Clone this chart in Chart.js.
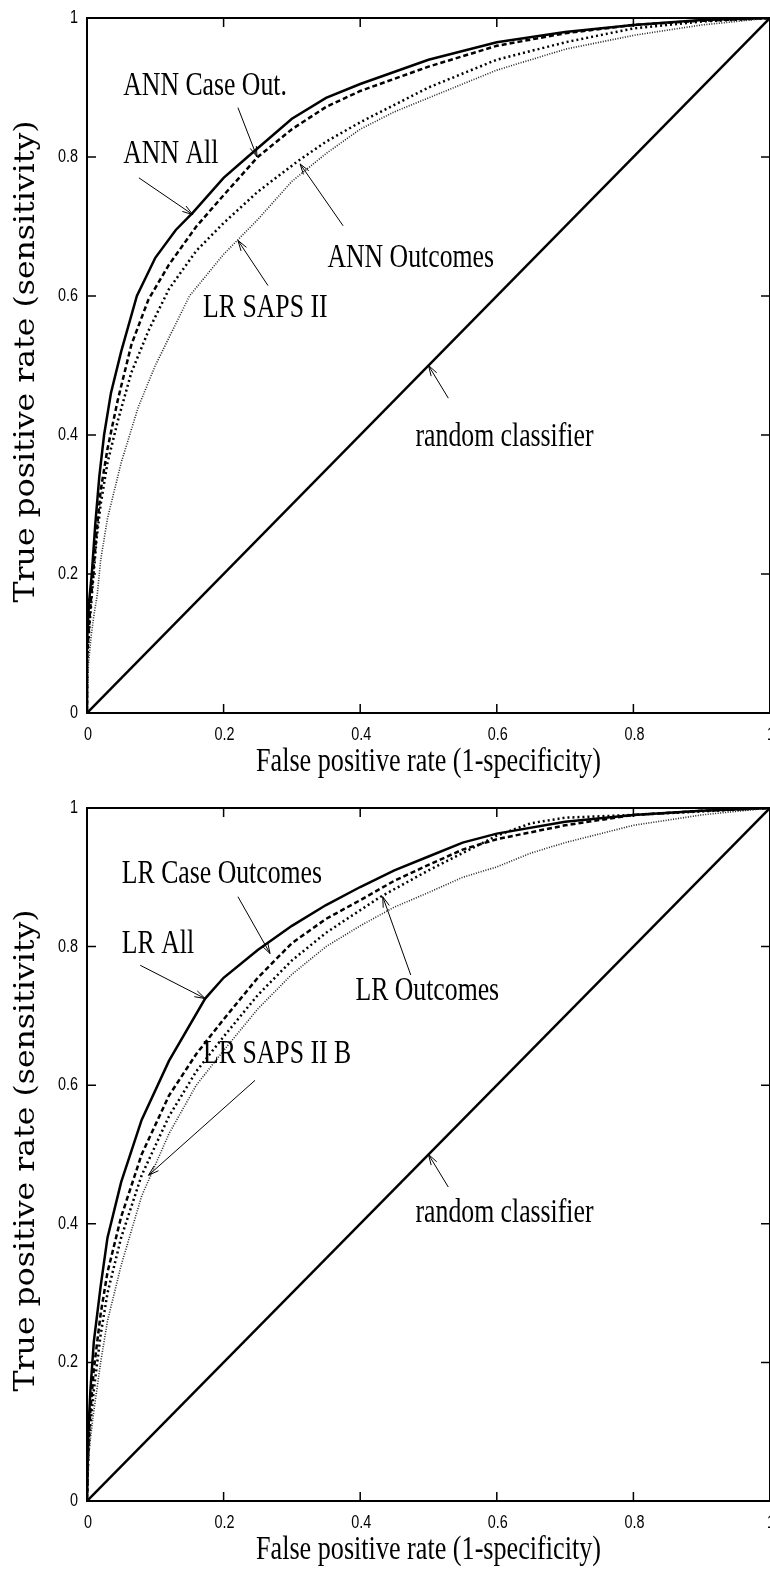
<!DOCTYPE html>
<html>
<head>
<meta charset="utf-8">
<script src="https://cdn.jsdelivr.net/npm/chart.js@4.4.1/dist/chart.umd.min.js"></script>
<style>
  html, body { margin: 0; padding: 0; background: #fff; width: 770px; height: 1570px; overflow: hidden; }
  .panel { position: absolute; left: 0; width: 770px; }
  canvas { display: block; }
</style>
</head>
<body>
<div class="panel" style="top:0"><canvas id="roc-ann" width="770" height="790"></canvas></div>
<div class="panel" style="top:790px"><canvas id="roc-lr" width="770" height="780"></canvas></div>
<script>
// Axis ticks (shared by both panels)
const TICK_VALUES = [0, 0.2, 0.4, 0.6, 0.8, 1];
const TICK_LABELS = ['0', '0.2', '0.4', '0.6', '0.8', '1'];
const X_TITLE = 'False positive rate (1-specificity)';
const Y_TITLE = 'True positive rate (sensitivity)';

// Diagonal reference
const RANDOM_FPR = [0, 1];
const RANDOM_TPR = [0, 1];

// Top panel: ANN models vs LR SAPS II
const ANN_ALL_FPR = [0, 0, 0.003, 0.007, 0.012, 0.018, 0.025, 0.035, 0.05, 0.073, 0.1, 0.13, 0.155, 0.2, 0.235, 0.3, 0.35, 0.4, 0.5, 0.6, 0.7, 0.8, 0.9, 1];
const ANN_ALL_TPR = [0, 0.1, 0.16, 0.2, 0.27, 0.34, 0.4, 0.46, 0.52, 0.6, 0.655, 0.695, 0.72, 0.77, 0.8, 0.855, 0.885, 0.905, 0.94, 0.965, 0.98, 0.99, 0.997, 1];
const ANN_CASE_FPR = [0, 0, 0.004, 0.008, 0.014, 0.02, 0.03, 0.045, 0.065, 0.09, 0.12, 0.16, 0.2, 0.25, 0.3, 0.35, 0.4, 0.5, 0.6, 0.7, 0.8, 0.9, 1];
const ANN_CASE_TPR = [0, 0.08, 0.14, 0.19, 0.26, 0.32, 0.38, 0.45, 0.53, 0.595, 0.645, 0.7, 0.745, 0.8, 0.84, 0.872, 0.895, 0.93, 0.96, 0.978, 0.99, 0.996, 1];
const ANN_OUT_FPR = [0, 0, 0.004, 0.008, 0.014, 0.02, 0.03, 0.045, 0.065, 0.09, 0.12, 0.16, 0.2, 0.25, 0.31, 0.35, 0.4, 0.5, 0.6, 0.7, 0.8, 0.9, 1];
const ANN_OUT_TPR = [0, 0.07, 0.13, 0.18, 0.25, 0.3, 0.36, 0.42, 0.49, 0.55, 0.61, 0.665, 0.705, 0.75, 0.795, 0.822, 0.85, 0.9, 0.94, 0.965, 0.985, 0.995, 1];
const SAPS_FPR = [0, 0.002, 0.006, 0.01, 0.015, 0.02, 0.03, 0.05, 0.075, 0.1, 0.15, 0.2, 0.25, 0.3, 0.35, 0.4, 0.45, 0.5, 0.55, 0.6, 0.65, 0.7, 0.8, 0.9, 1];
const SAPS_TPR = [0, 0.07, 0.11, 0.14, 0.17, 0.22, 0.28, 0.36, 0.44, 0.5, 0.6, 0.66, 0.71, 0.765, 0.805, 0.84, 0.865, 0.885, 0.905, 0.925, 0.94, 0.955, 0.975, 0.99, 1];

// Bottom panel: LR models
const LR_ALL_FPR = [0, 0.002, 0.005, 0.01, 0.02, 0.03, 0.05, 0.08, 0.12, 0.173, 0.2, 0.25, 0.3, 0.35, 0.4, 0.45, 0.5, 0.55, 0.6, 0.7, 0.8, 0.9, 1];
const LR_ALL_TPR = [0, 0.1, 0.16, 0.23, 0.31, 0.38, 0.46, 0.55, 0.635, 0.725, 0.755, 0.795, 0.83, 0.86, 0.886, 0.91, 0.93, 0.95, 0.963, 0.98, 0.99, 0.996, 1];
const LR_CASE_FPR = [0, 0.002, 0.005, 0.01, 0.02, 0.03, 0.05, 0.08, 0.12, 0.16, 0.2, 0.25, 0.3, 0.35, 0.4, 0.45, 0.5, 0.55, 0.6, 0.7, 0.8, 0.9, 1];
const LR_CASE_TPR = [0, 0.08, 0.13, 0.19, 0.27, 0.33, 0.41, 0.5, 0.585, 0.645, 0.695, 0.755, 0.805, 0.84, 0.867, 0.895, 0.918, 0.94, 0.955, 0.975, 0.99, 0.996, 1];
const LR_OUT_FPR = [0, 0.002, 0.005, 0.01, 0.02, 0.03, 0.05, 0.08, 0.12, 0.16, 0.2, 0.25, 0.3, 0.35, 0.43, 0.5, 0.55, 0.6, 0.65, 0.7, 0.75, 0.8, 0.9, 1];
const LR_OUT_TPR = [0, 0.07, 0.11, 0.16, 0.24, 0.3, 0.38, 0.47, 0.555, 0.62, 0.67, 0.73, 0.78, 0.82, 0.872, 0.91, 0.935, 0.96, 0.978, 0.986, 0.988, 0.99, 0.995, 1];
const LR_SAPSB_FPR = [0, 0.002, 0.005, 0.01, 0.02, 0.03, 0.05, 0.08, 0.12, 0.16, 0.2, 0.25, 0.3, 0.35, 0.4, 0.45, 0.5, 0.55, 0.6, 0.65, 0.7, 0.8, 0.9, 1];
const LR_SAPSB_TPR = [0, 0.06, 0.09, 0.13, 0.2, 0.26, 0.34, 0.44, 0.53, 0.6, 0.65, 0.71, 0.76, 0.8, 0.83, 0.857, 0.878, 0.9, 0.915, 0.935, 0.95, 0.975, 0.99, 1];

const ANN_NAMES = ['ANN Case Out.', 'ANN All', 'ANN Outcomes', 'LR SAPS II', 'random classifier'];
const LR_NAMES = ['LR Case Outcomes', 'LR All', 'LR Outcomes', 'LR SAPS II B', 'random classifier'];

const STYLES = {
  solid:  { borderColor: '#000', borderWidth: 2.5, borderDash: [] },
  dashed: { borderColor: '#000', borderWidth: 2.5, borderDash: [5, 3] },
  dotted: { borderColor: '#000', borderWidth: 2.5, borderDash: [2, 3] },
  fine:   { borderColor: '#222', borderWidth: 1.6, borderDash: [1, 1.5] },
};

const LABEL_FONT = '33px "Liberation Serif", "Times New Roman", serif';
const LABEL_SX = 0.78;
const TICK_FONT = '18px "Liberation Sans", Arial, sans-serif';
const TICK_SX = 0.8;

function pts(xs, ys) {
  return xs.map((x, i) => ({ x, y: ys[i] }));
}

function line(label, xs, ys, style) {
  return {
    label,
    data: pts(xs, ys),
    showLine: true,
    pointRadius: 0,
    tension: 0,
    fill: false,
    ...STYLES[style],
  };
}

// Draw text squeezed horizontally, like the original figure
function squeezed(ctx, text, x, y, font, sx, align) {
  ctx.save();
  ctx.font = font;
  const w = ctx.measureText(text).width * sx;
  let left = x;
  if (align === 'center') left = x - w / 2;
  else if (align === 'right') left = x - w;
  ctx.translate(left, y);
  ctx.scale(sx, 1);
  ctx.textAlign = 'left';
  ctx.fillText(text, 0, 0);
  ctx.restore();
}

function arrow(ctx, x0, y0, x1, y1) {
  ctx.beginPath();
  ctx.moveTo(x0, y0);
  ctx.lineTo(x1, y1);
  ctx.stroke();
  const a = Math.atan2(y1 - y0, x1 - x0);
  const len = 11, spread = 0.3;
  ctx.beginPath();
  ctx.moveTo(x1 - len * Math.cos(a - spread), y1 - len * Math.sin(a - spread));
  ctx.lineTo(x1, y1);
  ctx.lineTo(x1 - len * Math.cos(a + spread), y1 - len * Math.sin(a + spread));
  ctx.stroke();
}

// Frame, inward ticks, tick labels, titles and callouts
const framePlugin = {
  id: 'gnuplotFrame',
  afterDraw(chart, args, opts) {
    const { ctx, chartArea: a, scales } = chart;
    const sx = scales.x, sy = scales.y;
    ctx.save();
    ctx.fillStyle = '#000';
    ctx.strokeStyle = '#000';

    // box
    ctx.lineWidth = 2;
    ctx.strokeRect(a.left, a.top, a.right - a.left, a.bottom - a.top);

    // ticks on all four sides, pointing inward
    ctx.lineWidth = 1.5;
    const tl = 9;
    ctx.beginPath();
    TICK_VALUES.forEach((v) => {
      const px = sx.getPixelForValue(v);
      const py = sy.getPixelForValue(v);
      ctx.moveTo(px, a.bottom); ctx.lineTo(px, a.bottom - tl);
      ctx.moveTo(px, a.top); ctx.lineTo(px, a.top + tl);
      ctx.moveTo(a.left, py); ctx.lineTo(a.left + tl, py);
      ctx.moveTo(a.right, py); ctx.lineTo(a.right - tl, py);
    });
    ctx.stroke();

    // tick labels
    ctx.textBaseline = 'middle';
    TICK_VALUES.forEach((v, i) => {
      squeezed(ctx, TICK_LABELS[i], sx.getPixelForValue(v) + 1, a.bottom + 22, TICK_FONT, TICK_SX, 'center');
      squeezed(ctx, TICK_LABELS[i], a.left - 9, sy.getPixelForValue(v), TICK_FONT, TICK_SX, 'right');
    });

    // axis titles
    ctx.textBaseline = 'alphabetic';
    ctx.font = LABEL_FONT;
    const xw = ctx.measureText(X_TITLE).width;
    squeezed(ctx, X_TITLE, (a.left + a.right) / 2, a.bottom + 58, LABEL_FONT, 345 / xw, 'center');

    const yFont = '27px "DejaVu Serif", serif';
    ctx.font = yFont;
    const yw = ctx.measureText(Y_TITLE).width;
    ctx.save();
    ctx.translate(34, (a.top + a.bottom) / 2 - 4);
    ctx.rotate(-Math.PI / 2);
    squeezed(ctx, Y_TITLE, 0, 0, yFont, 482 / yw, 'center');
    ctx.restore();

    // callouts
    ctx.lineWidth = 1;
    opts.notes.forEach((n) => {
      squeezed(ctx, n.text, sx.getPixelForValue(n.at[0]), sy.getPixelForValue(n.at[1]), LABEL_FONT, LABEL_SX, 'left');
      arrow(ctx,
        sx.getPixelForValue(n.from[0]), sy.getPixelForValue(n.from[1]),
        sx.getPixelForValue(n.to[0]), sy.getPixelForValue(n.to[1]));
    });
    ctx.restore();
  },
};

function makeRoc(canvasId, datasets, notes, padBottom) {
  return new Chart(document.getElementById(canvasId), {
    type: 'scatter',
    data: { datasets },
    options: {
      responsive: false,
      animation: false,
      devicePixelRatio: 1,
      layout: { padding: { left: 87, right: 0, top: 18, bottom: padBottom } },
      plugins: {
        legend: { display: false },
        tooltip: { enabled: false },
        gnuplotFrame: { notes },
      },
      scales: {
        x: { type: 'linear', min: 0, max: 1, display: false },
        y: { type: 'linear', min: 0, max: 1, display: false },
      },
    },
    plugins: [framePlugin],
  });
}

makeRoc('roc-ann', [
  line('random classifier', RANDOM_FPR, RANDOM_TPR, 'solid'),
  line('LR SAPS II', SAPS_FPR, SAPS_TPR, 'fine'),
  line('ANN Outcomes', ANN_OUT_FPR, ANN_OUT_TPR, 'dotted'),
  line('ANN Case Out.', ANN_CASE_FPR, ANN_CASE_TPR, 'dashed'),
  line('ANN All', ANN_ALL_FPR, ANN_ALL_TPR, 'solid'),
], [
  { text: ANN_NAMES[0], at: [0.053, 0.889], from: [0.221, 0.871], to: [0.249, 0.8] },
  { text: ANN_NAMES[1], at: [0.053, 0.791], from: [0.076, 0.77], to: [0.155, 0.717] },
  { text: ANN_NAMES[2], at: [0.352, 0.642], from: [0.375, 0.701], to: [0.312, 0.79] },
  { text: ANN_NAMES[3], at: [0.17, 0.57], from: [0.265, 0.615], to: [0.221, 0.68] },
  { text: ANN_NAMES[4], at: [0.481, 0.384], from: [0.529, 0.453], to: [0.5, 0.5] },
], 77);

makeRoc('roc-lr', [
  line('random classifier', RANDOM_FPR, RANDOM_TPR, 'solid'),
  line('LR SAPS II B', LR_SAPSB_FPR, LR_SAPSB_TPR, 'fine'),
  line('LR Outcomes', LR_OUT_FPR, LR_OUT_TPR, 'dotted'),
  line('LR Case Outcomes', LR_CASE_FPR, LR_CASE_TPR, 'dashed'),
  line('LR All', LR_ALL_FPR, LR_ALL_TPR, 'solid'),
], [
  { text: LR_NAMES[0], at: [0.051, 0.892], from: [0.221, 0.872], to: [0.268, 0.79] },
  { text: LR_NAMES[1], at: [0.051, 0.791], from: [0.078, 0.773], to: [0.173, 0.725] },
  { text: LR_NAMES[2], at: [0.393, 0.723], from: [0.474, 0.759], to: [0.433, 0.872] },
  { text: LR_NAMES[3], at: [0.17, 0.632], from: [0.246, 0.607], to: [0.09, 0.47] },
  { text: LR_NAMES[4], at: [0.481, 0.403], from: [0.529, 0.453], to: [0.5, 0.5] },
], 69);
</script>
</body>
</html>
